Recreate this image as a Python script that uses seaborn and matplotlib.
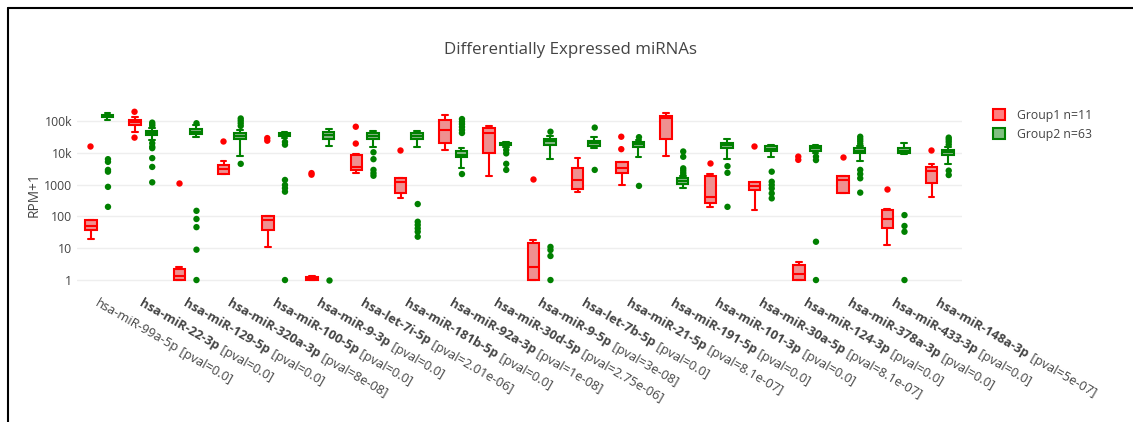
import matplotlib
matplotlib.use("Agg")
import numpy as np
import pandas as pd
import seaborn as sns
import matplotlib.pyplot as plt
from matplotlib.patches import Patch
from matplotlib.lines import Line2D
from matplotlib.transforms import offset_copy

# miRNA names + p-values shown on the x axis
mirnas = ["hsa-miR-99a-5p", "hsa-miR-22-3p", "hsa-miR-129-5p", "hsa-miR-320a-3p",
          "hsa-miR-100-5p", "hsa-miR-9-3p", "hsa-let-7i-5p", "hsa-miR-181b-5p",
          "hsa-miR-92a-3p", "hsa-miR-30d-5p", "hsa-miR-9-5p", "hsa-let-7b-5p",
          "hsa-miR-21-5p", "hsa-miR-191-5p", "hsa-miR-101-3p", "hsa-miR-30a-5p",
          "hsa-miR-124-3p", "hsa-miR-378a-3p", "hsa-miR-433-3p", "hsa-miR-148a-3p"]
pvals = ["0.0", "0.0", "0.0", "8e-08", "0.0", "0.0", "2.01e-06", "0.0", "1e-08", "2.75e-06",
         "3e-08", "0.0", "8.1e-07", "0.0", "0.0", "8.1e-07", "0.0", "0.0", "0.0", "5e-07"]
bold = [False] + [True] * 19

groups = ["Group1 n=11", "Group2 n=63"]

# (whisker low, q1, median, q3, whisker high) in RPM+1
g1_box = [(20, 37, 50, 77, 80), (46000, 75000, 90000, 107000, 130000), (1, 1, 1.3, 2.2, 2.6),
          (2100, 2150, 3000, 4200, 5500), (11, 37, 80, 100, 105), (1, 1, 1.1, 1.25, 1.3),
          (2350, 2900, 3650, 8500, 9000), (370, 560, 1230, 1580, 1600),
          (12300, 20000, 52000, 107000, 155000), (1870, 9600, 41000, 59000, 71000),
          (1, 1, 2.6, 15, 18), (570, 710, 1390, 3250, 6700), (970, 2350, 3400, 5000, 5200),
          (8000, 28000, 120000, 145000, 182000), (195, 260, 420, 1870, 2100),
          (160, 680, 910, 1230, 1250), (1, 1, 1.5, 3, 3.6), (540, 560, 1390, 1870, 1900),
          (12.6, 44, 81, 160, 170), (400, 1100, 2700, 3650, 4500)]
g1_out = [[16000], [195000, 30000], [1100], [23500], [29000, 24000], [2300, 2050],
          [66000, 19500], [12300], [], [], [1500], [], [32000, 13000], [], [4900],
          [16700], [7600, 6000], [7600], [730], [12300]]

g2_box = [(110000, 130000, 145000, 160000, 180000), (25000, 36000, 42000, 50000, 62000),
          (32000, 39000, 46000, 55000, 75000), (8000, 27000, 33000, 43000, 52000),
          (30000, 33000, 38000, 42000, 45000), (16700, 28000, 35000, 46000, 55000),
          (15500, 27000, 33000, 41000, 50000), (15500, 27000, 33000, 41000, 50000),
          (3250, 7200, 8500, 11000, 14000), (15000, 17000, 19000, 21000, 22000),
          (6300, 18000, 23000, 28000, 33000), (14000, 16000, 20000, 24000, 31000),
          (7600, 15000, 18500, 22000, 25000), (760, 1050, 1300, 1580, 1900),
          (6300, 14000, 17000, 21000, 28000), (7600, 11000, 13500, 16000, 17500),
          (10000, 11700, 14500, 16700, 18000), (5600, 9600, 11500, 14000, 16000),
          (9000, 9600, 11500, 14000, 20000), (4500, 8500, 10500, 12300, 15000)]
g2_out = [[6300, 5200, 2900, 2550, 850, 200],
          [89000, 78000, 70000, 20000, 15500, 14000, 6800, 3600, 1180],
          [85000, 150, 83, 46, 9, 1],
          [120000, 102000, 85000, 70000, 4500],
          [22000, 18000, 1400, 970, 770, 600, 1],
          [1],
          [10400, 6300, 2900, 2300, 1900],
          [245, 68, 54, 42, 33, 23],
          [115000, 95000, 80000, 65000, 52000, 42000, 2150],
          [12300, 9600, 4500, 2900],
          [46000, 11, 8.8, 5.7, 1],
          [62000, 2900],
          [31000, 910],
          [11000, 7500, 3250, 2800, 2400, 2100],
          [3800, 2350, 200],
          [2550, 1230, 970, 760, 530, 370],
          [7600, 5900, 16, 1],
          [32000, 27000, 23000, 19000, 2900, 2150, 1580, 560],
          [110, 50, 33, 1],
          [30000, 26000, 22000, 18000, 2750, 2000]]

ytick_vals = [1, 10, 100, 1000, 10000, 100000]
ytick_text = ["1", "10", "100", "1000", "10k", "100k"]

# long tables
rows = []
for name, b1, b2 in zip(mirnas, g1_box, g2_box):
    for v in b1:
        rows.append((name, groups[0], v))
    for v in b2:
        rows.append((name, groups[1], v))
box_df = pd.DataFrame(rows, columns=["mirna", "group", "value"])

rows = []
for name, o1, o2 in zip(mirnas, g1_out, g2_out):
    for v in o1:
        rows.append((name, groups[0], v))
    for v in o2:
        rows.append((name, groups[1], v))
out_df = pd.DataFrame(rows, columns=["mirna", "group", "value"])

sns.set_style("white")
plt.rcParams["font.family"] = ["Open Sans", "DejaVu Sans"]
txt_col = "#444444"

W, H = 1133, 422
fig = plt.figure(figsize=(W / 100, H / 100), dpi=100)
ax_l, ax_r, ax_t, ax_b = 77, 962, 103.5, 286.4
ax = fig.add_axes([ax_l / W, 1 - ax_b / H, (ax_r - ax_l) / W, (ax_b - ax_t) / H])

fills = {groups[0]: "#ff8080", groups[1]: "#80c080"}
edges = {groups[0]: "#ff0000", groups[1]: "#008000"}

sns.boxplot(data=box_df, x="mirna", y="value", hue="group", order=mirnas,
            hue_order=groups, palette=fills, linecolor="red", linewidth=1.5,
            width=0.75, gap=0.3, whis=(0, 100), showfliers=False,
            log_scale=True, legend=False, ax=ax)

# boxes of the left slot are group 1 (red), right slot group 2 (green)
for ln in ax.lines:
    xs = np.asarray(ln.get_xdata(), float)
    if xs.size == 0:
        continue
    xm = xs.mean()
    ln.set_color(edges[groups[0]] if xm - np.round(xm) < 0 else edges[groups[1]])
for p in ax.patches:
    xm = p.get_path().vertices[:, 0].mean()
    p.set_edgecolor(edges[groups[0]] if xm - np.round(xm) < 0 else edges[groups[1]])

sns.stripplot(data=out_df, x="mirna", y="value", hue="group", order=mirnas,
              hue_order=groups, palette=edges, dodge=True, jitter=False, size=4.6,
              linewidth=0, legend=False, ax=ax)

ax.set_yscale("log")
ax.set_ylim(10 ** -0.2, 10 ** 5.55)
ax.set_xlim(-0.5, len(mirnas) - 0.5)
ax.yaxis.set_minor_locator(matplotlib.ticker.NullLocator())
ax.set_yticks(ytick_vals, ytick_text)
ax.set_xticks(range(len(mirnas)), [""] * len(mirnas))
ax.tick_params(axis="both", length=0, labelsize=8.8, colors=txt_col)
ax.tick_params(axis="y", pad=3.5)
ax.grid(axis="y", color="#eeeeee", lw=1)
ax.set_axisbelow(True)
for s in ax.spines.values():
    s.set_visible(False)
ax.set_xlabel("")
ax.set_ylabel("RPM+1", fontsize=9.8, color=txt_col)
ax.yaxis.set_label_coords((42 - ax_l) / (ax_r - ax_l), 0.5)

# rotated two-part tick labels (bold name + normal p-value)
renderer = fig.canvas.get_renderer()
ang = np.deg2rad(30)
base = ax.get_xaxis_transform()
asc = 10
y_top = 297 - ax_b
fs = 9.3
for i, (name, pv, b) in enumerate(zip(mirnas, pvals, bold)):
    dx0 = -np.sin(ang) * asc
    dy0 = -(y_top + np.cos(ang) * asc)
    w1 = "bold" if b else "normal"
    ax.text(i, 0, name, transform=offset_copy(base, fig, dx0, dy0, units="dots"),
            rotation=-30, rotation_mode="anchor", ha="left", va="baseline",
            fontsize=fs, fontweight=w1, color=txt_col, clip_on=False)
    tmp = fig.text(0, 0, name, fontsize=fs, fontweight=w1)
    w = tmp.get_window_extent(renderer).width
    tmp.remove()
    ax.text(i, 0, " [pval=" + pv + "]",
            transform=offset_copy(base, fig, dx0 + w * np.cos(ang), dy0 - w * np.sin(ang), units="dots"),
            rotation=-30, rotation_mode="anchor", ha="left", va="baseline",
            fontsize=fs, color=txt_col, clip_on=False)

fig.text(570 / W, 1 - 50 / H, "Differentially Expressed miRNAs", ha="center", va="center",
         fontsize=12.2, color=txt_col)

handles = [Patch(facecolor=fills[g], edgecolor=edges[g], lw=1.5) for g in groups]
fig.legend(handles, groups, loc="upper left", bbox_to_anchor=(982 / W, 1 - 98 / H),
           frameon=False, fontsize=8.8, handlelength=1.0, handleheight=1.0,
           handletextpad=1.0, labelspacing=0.5, labelcolor=txt_col)

# screenshot frame
fig.add_artist(Line2D([8 / W, 8 / W], [0, 1 - 8 / H], color="black", lw=1.5))
fig.add_artist(Line2D([8 / W, 1], [1 - 8 / H, 1 - 8 / H], color="black", lw=1.5))

fig.savefig("out.png", dpi=100)
